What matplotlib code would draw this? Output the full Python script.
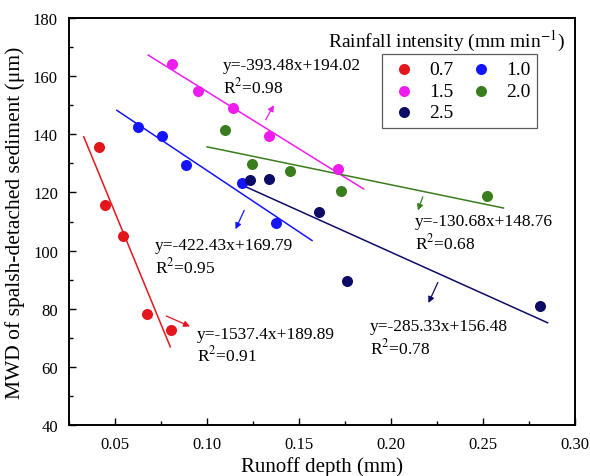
import numpy as np
import matplotlib
matplotlib.use("Agg")
import matplotlib.pyplot as plt
from matplotlib.ticker import MultipleLocator, FormatStrFormatter

plt.rcParams["font.family"] = ["Liberation Serif", "DejaVu Serif"]
plt.rcParams["mathtext.fontset"] = "stix"

# rainfall intensity groups (mm min-1)
intensities = ["0.7", "1.0", "1.5", "2.0", "2.5"]
colors = ["#e3161c", "#1414ff", "#ee1cee", "#3a7d1e", "#0c0c66"]

# runoff depth (mm) and MWD (um) for each group
x_07 = [0.0415, 0.0445, 0.0543, 0.0676, 0.0805]
y_07 = [135.8, 115.7, 105.0, 78.2, 72.8]
x_10 = [0.0624, 0.0753, 0.0886, 0.1187, 0.1376]
y_10 = [142.6, 139.4, 129.6, 123.4, 109.4]
x_15 = [0.0810, 0.0949, 0.1141, 0.1335, 0.1712]
y_15 = [164.3, 155.0, 149.2, 139.5, 127.9]
x_20 = [0.1095, 0.1242, 0.1453, 0.1728, 0.2521]
y_20 = [141.4, 129.7, 127.4, 120.4, 118.9]
x_25 = [0.1233, 0.1338, 0.1607, 0.1760, 0.2807]
y_25 = [124.3, 124.8, 113.2, 89.6, 81.0]

# fitted lines: slope, intercept, R2, x range of drawn line
slopes = [-1537.4, -422.43, -393.48, -130.68, -285.33]
intercepts = [189.89, 169.79, 194.02, 148.76, 156.48]
r2 = [0.91, 0.95, 0.98, 0.68, 0.78]
fit_ranges = [(0.033, 0.080), (0.051, 0.157), (0.068, 0.185), (0.100, 0.261), (0.120, 0.285)]

# annotation text position (top-left) and arrow (tail -> head) in data units
text_pos = [(0.0946, 74.2), (0.0715, 104.6), (0.1084, 166.6), (0.2131, 113.0), (0.1885, 76.8)]
arrow_tail = [(0.0764, 77.9), (0.1208, 114.7), (0.1311, 144.2), (0.2177, 119.4), (0.2260, 89.9)]
arrow_head = [(0.0921, 73.5), (0.1148, 106.5), (0.1370, 150.9), (0.2140, 112.9), (0.2196, 81.1)]

xs = [x_07, x_10, x_15, x_20, x_25]
ys = [y_07, y_10, y_15, y_20, y_25]

fig = plt.figure(figsize=(5.9, 4.77), dpi=100)
ax = fig.add_axes([0.117, 0.107, 0.858, 0.853])

handles = []
for i in range(len(intensities)):
    h = ax.scatter(xs[i], ys[i], s=48, color=colors[i], zorder=3, label=intensities[i])
    handles.append(h)
    x0, x1 = fit_ranges[i]
    lx = np.array([x0, x1])
    ax.plot(lx, slopes[i] * lx + intercepts[i], color=colors[i], lw=1.1, zorder=2)
    eq = f"y={slopes[i]:g}x+{intercepts[i]:.2f}\nR$^2$={r2[i]:.2f}"
    ax.text(text_pos[i][0], text_pos[i][1], eq, fontsize=12.5, va="top", ha="left",
            linespacing=1.2)
    ax.annotate("", xy=arrow_head[i], xytext=arrow_tail[i],
                arrowprops=dict(arrowstyle="-|>", color=colors[i], lw=0.9,
                                mutation_scale=9))

order = [0, 2, 4, 1, 3]
leg = ax.legend([handles[k] for k in order], [intensities[k] for k in order],
                ncol=2, loc="upper right", bbox_to_anchor=(0.925, 0.912),
                borderaxespad=0, fontsize=14, frameon=True, fancybox=False,
                edgecolor="#333333", handletextpad=0.5, columnspacing=0.6,
                labelspacing=0.2, borderpad=0.35, handlelength=1.6, scatterpoints=1)
leg.get_frame().set_linewidth(0.9)
ax.text(0.98, 0.975, "Rainfall intensity (mm min$^{-1}$)", transform=ax.transAxes,
        ha="right", va="top", fontsize=14)

ax.set_xlim(0.025, 0.30)
ax.set_ylim(40, 180)
ax.xaxis.set_major_locator(MultipleLocator(0.05))
ax.xaxis.set_minor_locator(MultipleLocator(0.025))
ax.yaxis.set_major_locator(MultipleLocator(20))
ax.yaxis.set_minor_locator(MultipleLocator(10))
ax.xaxis.set_major_formatter(FormatStrFormatter("%.2f"))
ax.tick_params(which="major", direction="in", length=5, width=1, labelsize=12)
ax.tick_params(which="minor", direction="in", length=3, width=1)
ax.tick_params(axis="x", pad=8)
ax.tick_params(axis="y", pad=8)
for sp in ax.spines.values():
    sp.set_linewidth(1.4)

ax.set_xlabel("Runoff depth (mm)", fontsize=15, labelpad=3)
ax.set_ylabel("MWD of spalsh-detached sediment (\u03bcm)", fontsize=15.5, labelpad=6)

fig.savefig("out.png", dpi=100)
